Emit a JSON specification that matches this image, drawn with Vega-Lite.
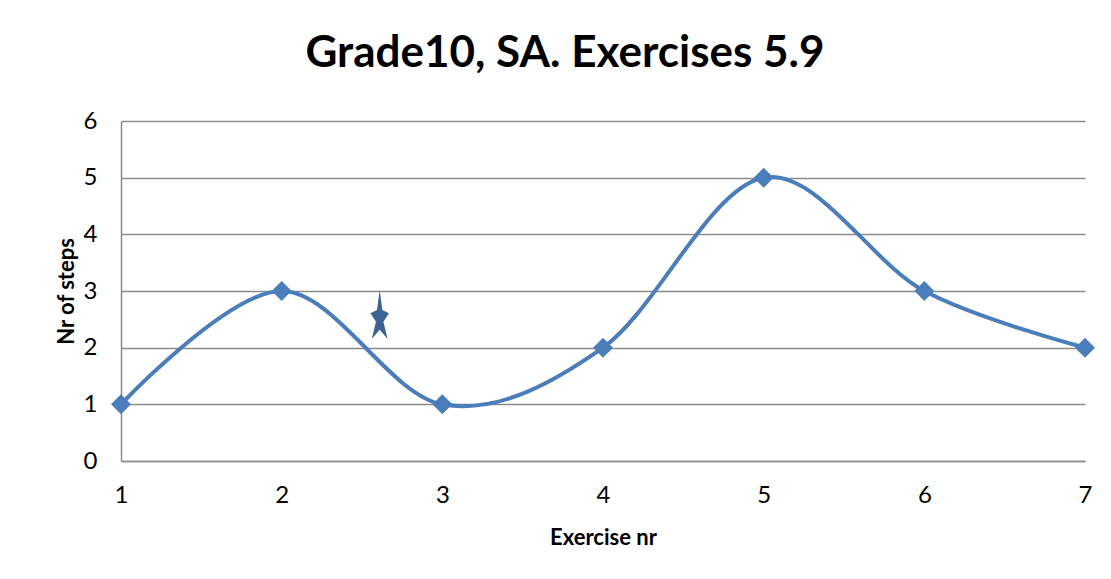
{
  "$schema": "https://vega.github.io/schema/vega-lite/v6.json",
  "autosize": {"type": "none"},
  "width": 964,
  "height": 340,
  "padding": {"left": 121, "top": 121, "right": 26, "bottom": 118},
  "background": "white",
  "config": {
    "view": {"stroke": null},
    "font": "Lato",
    "axis": {
      "domainColor": "#8c8c8c", "domainWidth": 1.5,
      "gridColor": "#8c8c8c", "gridWidth": 1.5,
      "ticks": false, "labelFlush": false,
      "labelFont": "Lato", "labelFontSize": 24, "labelColor": "black", "format": "d",
      "titleFont": "Lato", "titleFontSize": 22, "titleFontWeight": "bold", "titleColor": "black"
    }
  },
  "title": {
    "text": "Grade10, SA. Exercises 5.9",
    "font": "Lato", "fontSize": 44, "fontWeight": "bold", "color": "black",
    "anchor": "middle", "dx": -38, "offset": -2, "baseline": "alphabetic"
  },
  "datasets": {
    "series": [
      {"exercise": 1, "steps": 1},
      {"exercise": 2, "steps": 3},
      {"exercise": 3, "steps": 1},
      {"exercise": 4, "steps": 2},
      {"exercise": 5, "steps": 5},
      {"exercise": 6, "steps": 3},
      {"exercise": 7, "steps": 2}
    ],
    "star": [{"exercise": 2.61, "steps": 2.55}]
  },
  "layer": [
    {
      "data": {"name": "series"},
      "mark": {"type": "line", "interpolate": "cardinal", "color": "#4a7ebb", "strokeWidth": 4},
      "encoding": {
        "x": {"field": "exercise", "type": "quantitative", "scale": {"domain": [1, 7], "nice": false, "zero": false},
              "axis": {"values": [1,2,3,4,5,6,7], "grid": false, "title": "Exercise nr", "labelPadding": 22, "titleY": 76, "titleBaseline": "middle"}},
        "y": {"field": "steps", "type": "quantitative", "scale": {"domain": [0, 6], "nice": false},
              "axis": {"values": [0,1,2,3,4,5,6], "grid": true, "title": "Nr of steps", "labelPadding": 24, "titleX": -55, "titleBaseline": "middle"}}
      }
    },
    {
      "data": {"name": "series"},
      "mark": {"type": "point", "shape": "diamond", "filled": true, "size": 400, "color": "#4a7ebb", "opacity": 1},
      "encoding": {
        "x": {"field": "exercise", "type": "quantitative"},
        "y": {"field": "steps", "type": "quantitative"}
      }
    },
    {
      "data": {"name": "star"},
      "mark": {"type": "point", "filled": true, "size": 2809, "color": "#3d6394", "opacity": 1,
               "shape": "M0,-1 L0.1,-0.25 L0.35,-0.12 L0.14,0.2 L0.3,0.85 L0,0.5 L-0.3,0.85 L-0.14,0.2 L-0.35,-0.12 L-0.1,-0.25 Z"},
      "encoding": {
        "x": {"field": "exercise", "type": "quantitative"},
        "y": {"field": "steps", "type": "quantitative"}
      }
    }
  ]
}
